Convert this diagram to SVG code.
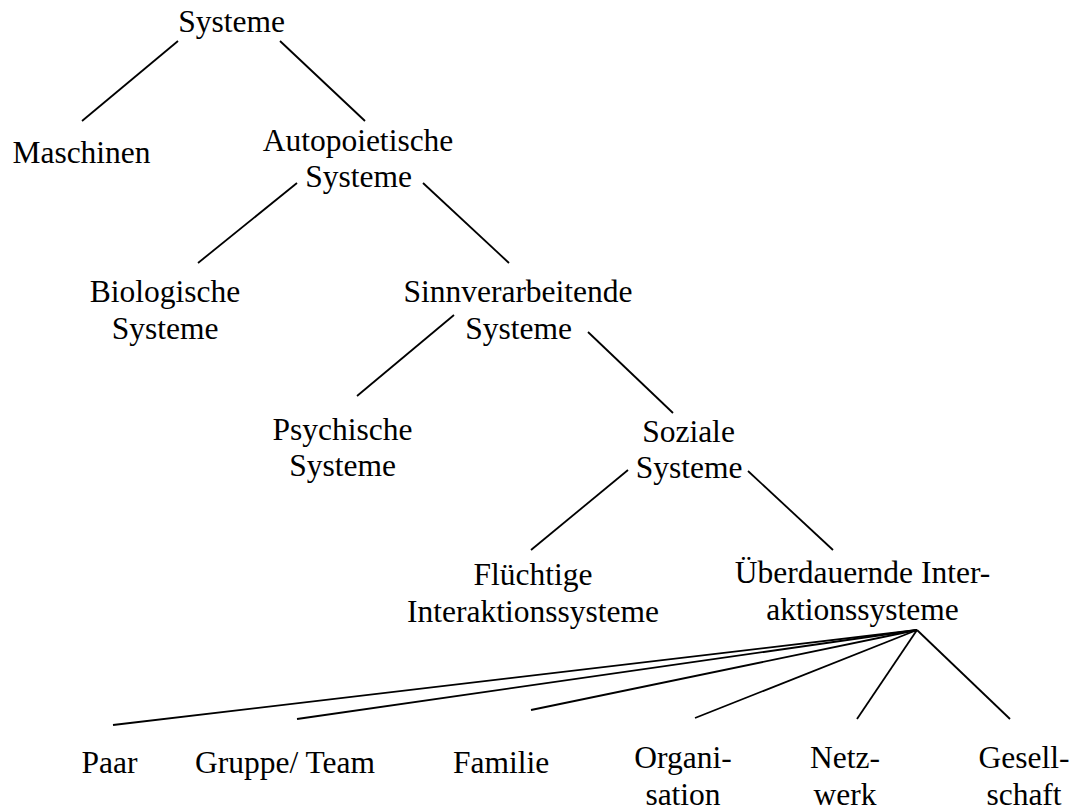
<svg xmlns="http://www.w3.org/2000/svg" width="1072" height="812" viewBox="0 0 1072 812">
<style>
text{font-family:"Liberation Serif","Times New Roman",serif;font-size:31.5px;fill:#000;text-anchor:middle}
.c line{stroke:#000;stroke-width:1.8;stroke-linecap:butt}
</style>
<rect width="1072" height="812" fill="#fff"/>
<g class="c" id="connectors">
<line x1="178" y1="41" x2="82" y2="121"/>
<line x1="280" y1="41" x2="365" y2="121"/>
<line x1="297" y1="183" x2="198" y2="263"/>
<line x1="423" y1="183" x2="509" y2="263"/>
<line x1="454" y1="315" x2="357" y2="396"/>
<line x1="588" y1="332" x2="673" y2="413"/>
<line x1="628" y1="470" x2="531" y2="550"/>
<line x1="748" y1="471" x2="833" y2="550"/>
<line x1="917" y1="630" x2="113" y2="725"/>
<line x1="917" y1="630" x2="297" y2="719"/>
<line x1="917" y1="630" x2="531" y2="710"/>
<line x1="917" y1="630" x2="695" y2="718"/>
<line x1="917" y1="630" x2="857" y2="719"/>
<line x1="917" y1="630" x2="1010" y2="719"/>
</g>
<g id="systeme"><text x="231.5" y="32">Systeme</text></g>
<g id="maschinen"><text x="81.5" y="163">Maschinen</text></g>
<g id="autopoietische"><text x="358" y="151">Autopoietische</text><text x="358.5" y="187">Systeme</text></g>
<g id="biologische"><text x="165" y="302">Biologische</text><text x="165" y="339">Systeme</text></g>
<g id="sinnverarbeitende"><text x="518" y="302">Sinnverarbeitende</text><text x="518.5" y="339">Systeme</text></g>
<g id="psychische"><text x="342.5" y="440">Psychische</text><text x="342.5" y="476">Systeme</text></g>
<g id="soziale"><text x="688.5" y="442">Soziale</text><text x="689" y="478">Systeme</text></g>
<g id="fluechtige"><text x="533" y="585">Flüchtige</text><text x="533" y="622">Interaktionssysteme</text></g>
<g id="ueberdauernde"><text x="862.5" y="583">Überdauernde Inter-</text><text x="862.5" y="620">aktionssysteme</text></g>
<g id="paar"><text x="109.5" y="773">Paar</text></g>
<g id="gruppe"><text x="285" y="773">Gruppe/ Team</text></g>
<g id="familie"><text x="501" y="773">Familie</text></g>
<g id="organisation"><text x="683" y="768">Organi-</text><text x="683" y="805">sation</text></g>
<g id="netzwerk"><text x="845" y="768">Netz-</text><text x="845" y="805">werk</text></g>
<g id="gesellschaft"><text x="1024" y="768">Gesell-</text><text x="1024" y="805">schaft</text></g>
</svg>
